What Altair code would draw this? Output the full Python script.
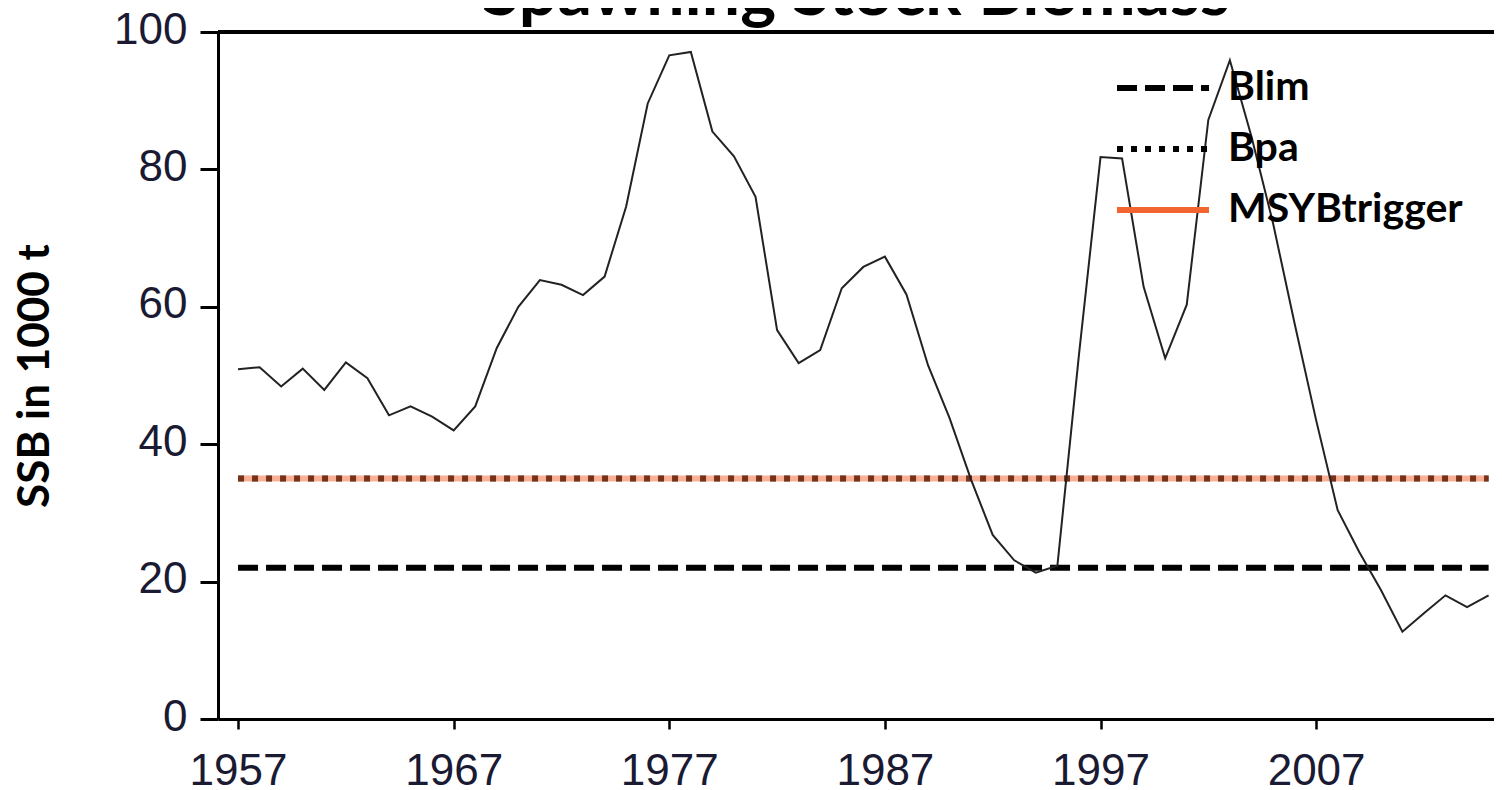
import altair as alt
import pandas as pd

years = list(range(1957, 2016))
ssb = [50.9, 51.2, 48.4, 51.0, 47.9, 51.9, 49.6, 44.2, 45.5, 44.0,
       42.0, 45.5, 54.0, 60.0, 63.9, 63.2, 61.7, 64.4, 74.6, 89.6,
       96.6, 97.1, 85.5, 81.9, 76.0, 56.6, 51.8, 53.7, 62.7, 65.8,
       67.3, 61.8, 51.5, 43.8, 34.8, 26.8, 23.1, 21.3, 22.3, 53.0,
       81.8, 81.6, 62.9, 52.5, 60.3, 87.2, 95.9, 84.8, 72.2, 57.6,
       43.5, 30.4, 24.3, 18.8, 12.7, 15.4, 18.0, 16.3, 18.0]

ref_names = ["Blim", "Bpa", "MSYBtrigger"]
ref_values = [22, 35, 35]
ref_colors = ["#000000", "#000000", "#F26430"]
ref_dashes = [[20, 8], [6, 8], [1, 0]]
ref_start = 1957
ref_end = 2015

x_ticks = [1957, 1967, 1977, 1987, 1997, 2007]
y_ticks = [0, 20, 40, 60, 80, 100]
x_domain = [1956.07, 2015.25]
y_domain = [0, 100]

ssb_df = pd.DataFrame({"year": years, "ssb": ssb})
ref_df = pd.DataFrame({"series": ref_names, "value": ref_values,
                       "start": [ref_start] * 3, "end": [ref_end] * 3})
top_df = pd.DataFrame({"top": [y_domain[1]]})

label_color = "#1a1a33"

xscale = alt.Scale(domain=x_domain, nice=False, zero=False)
yscale = alt.Scale(domain=y_domain, nice=False)

x_axis = alt.Axis(values=x_ticks, format="d", title=None,
                  labelFont="Liberation Sans", labelFontSize=44,
                  labelColor=label_color, labelPadding=20,
                  tickSize=10, tickWidth=2.5, tickColor="#000000",
                  domainColor="#000000", domainWidth=3,
                  grid=False, labelFlush=False)
y_axis = alt.Axis(values=y_ticks, title="SSB in 1000 t",
                  labelFont="Liberation Sans", labelFontSize=44,
                  labelColor=label_color, labelPadding=13,
                  labelOffset=-2,
                  tickSize=18, tickWidth=3, tickColor="#000000",
                  domainColor="#000000", domainWidth=3,
                  grid=False,
                  titleFont="Lato", titleFontSize=44,
                  titleFontWeight="bold", titleColor="#000000",
                  titleAngle=270, titleX=-183, titleY=343.5,
                  titleAlign="center", titleBaseline="middle")

refs = alt.Chart(ref_df).mark_rule(strokeWidth=6).encode(
    x=alt.X("start:Q", scale=xscale, axis=x_axis),
    x2="end:Q",
    y=alt.Y("value:Q", scale=yscale, axis=y_axis),
    color=alt.Color("series:N",
                    scale=alt.Scale(domain=ref_names, range=ref_colors),
                    legend=alt.Legend(
                        title=None, orient="none", legendX=911, legendY=22,
                        symbolType="M-1.5,0H1.5", symbolSize=3760,
                        symbolStrokeWidth=6, padding=0, rowPadding=7,
                        labelOffset=31, labelFont="Lato", labelFontSize=41,
                        labelFontWeight="bold", labelColor="#000000",
                        labelLimit=400)),
    strokeDash=alt.StrokeDash("series:N",
                              scale=alt.Scale(domain=ref_names, range=ref_dashes),
                              legend=alt.Legend(title=None)),
    opacity=alt.condition(alt.datum.series == "MSYBtrigger",
                          alt.value(0.5), alt.value(1.0)),
)

line = alt.Chart(ssb_df).mark_line(color="#222222", strokeWidth=2).encode(
    x=alt.X("year:Q", scale=xscale, axis=x_axis),
    y=alt.Y("ssb:Q", scale=yscale, axis=y_axis),
)

top_rule = alt.Chart(top_df).mark_rule(color="#000000", strokeWidth=4).encode(
    y=alt.Y("top:Q", scale=yscale, axis=y_axis)
)

chart = alt.layer(refs, line, top_rule).properties(
    width=1276, height=687,
    title=alt.Title("Spawning Stock Biomass", font="Lato", fontSize=68,
                    fontWeight="bold", color="#000000", anchor="middle",
                    offset=-21),
    padding={"left": 210, "top": 24, "right": 0, "bottom": 70},
    autosize=alt.AutoSizeParams(type="none"),
    background="#ffffff",
).configure_view(stroke=None)

chart.save("out.html", embed_options={"renderer": "svg", "actions": False})
